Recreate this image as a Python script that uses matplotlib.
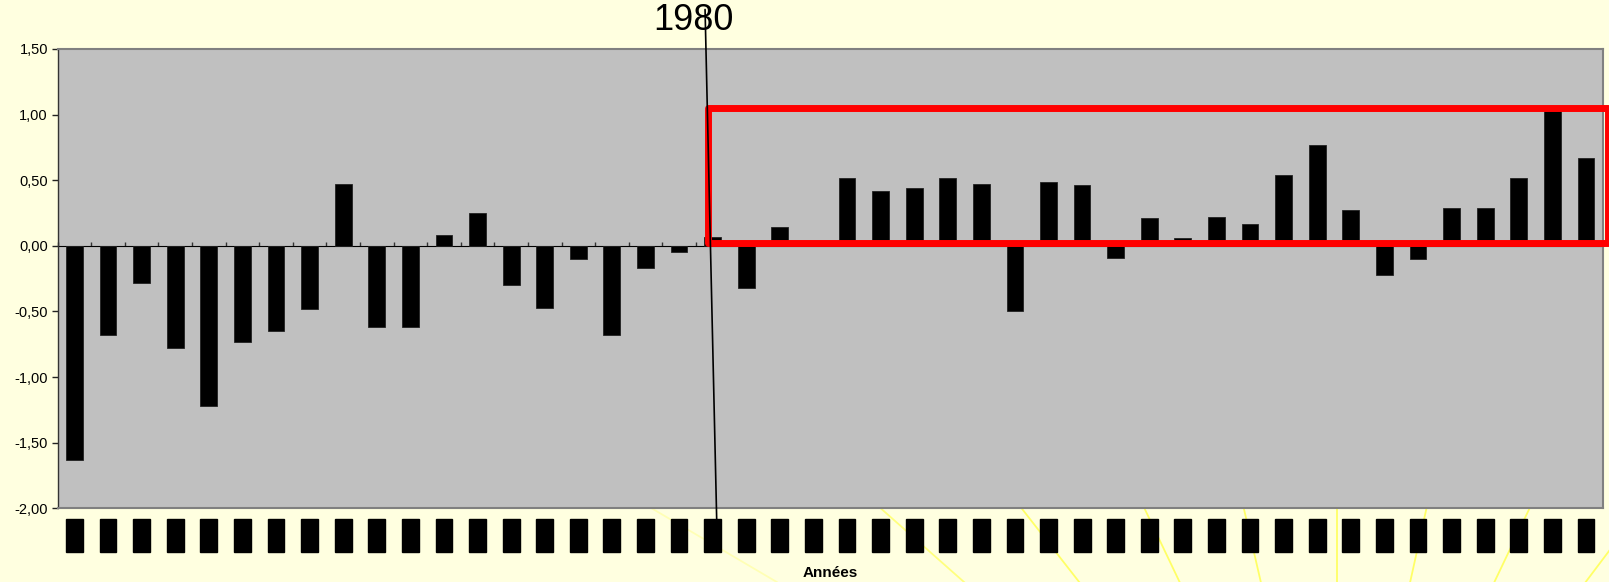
import numpy as np
import matplotlib
matplotlib.use('Agg')
import matplotlib.pyplot as plt
from matplotlib.patches import Rectangle
from matplotlib.lines import Line2D

plt.rcParams['font.family'] = ['Liberation Sans', 'DejaVu Sans']

# data
years = [str(y) for y in range(1961, 2007)]
values = [-1.63, -0.68, -0.28, -0.78, -1.22, -0.73, -0.65, -0.48, 0.47, -0.62,
          -0.62, 0.08, 0.25, -0.30, -0.47, -0.10, -0.68, -0.17, -0.05, 0.07,
          -0.32, 0.14, 0.02, 0.52, 0.42, 0.44, 0.52, 0.47, -0.50, 0.49,
          0.46, -0.09, 0.21, 0.06, 0.22, 0.17, 0.54, 0.77, 0.27, -0.22,
          -0.10, 0.29, 0.29, 0.52, 1.03, 0.67]
y_ticks = [-2.0, -1.5, -1.0, -0.5, 0.0, 0.5, 1.0, 1.5]
y_labels = ['-2,00', '-1,50', '-1,00', '-0,50', '0,00', '0,50', '1,00', '1,50']
mark_year = '1980'
box_x = (18.85, 45.65)   # red frame, in category units
box_y = (0.023, 1.05)

W, H = 1609, 582
bg = '#FFFFE0'
fig = plt.figure(figsize=(W / 100, H / 100), dpi=100, facecolor=bg)
ax = fig.add_axes([57.7 / W, 1 - 508.3 / H, (1602.7 - 57.7) / W, (508.3 - 49) / H])
ax.set_facecolor('#C0C0C0')

x = np.arange(len(years))
ax.bar(x, values, width=0.5, color='black', edgecolor='#222222', linewidth=0.6, zorder=3)

ax.set_xlim(-0.5, len(years) - 0.5)
ax.set_ylim(-2.0, 1.5)
ax.set_yticks(y_ticks)
ax.set_yticklabels(y_labels, fontsize=10.5)
ax.tick_params(axis='y', direction='out', length=4, width=1, pad=3, color='#222222')

# hidden year labels (black blocks)
ax.set_xticks(x)
ax.set_xticklabels(years, rotation=90, fontsize=9.1, color='black')
ax.tick_params(axis='x', length=0, pad=9.4)
for lab in ax.get_xticklabels():
    lab.set_bbox(dict(facecolor='black', edgecolor='black', pad=1.7))

for s in ['top', 'right', 'bottom']:
    ax.spines[s].set_color('#808080')
    ax.spines[s].set_linewidth(1.5)
ax.spines['left'].set_color('#333333')
ax.spines['left'].set_linewidth(1.0)

# category axis crossing at zero
zero_frac = (0 - y_ticks[0]) / (y_ticks[-1] - y_ticks[0])
sec = ax.secondary_xaxis(zero_frac)
sec.set_xticks(np.arange(len(years) + 1) - 0.5)
sec.set_xticklabels([])
sec.tick_params(direction='out', length=3, width=1, color='#333333')
sec.spines['bottom'].set_color('#555555')
sec.spines['bottom'].set_linewidth(1.0)

ax.set_xlabel('Années', fontsize=11, fontweight='bold', labelpad=12)

# red frame over the period after 1980
ax.add_patch(Rectangle((box_x[0], box_y[0]), box_x[1] - box_x[0], box_y[1] - box_y[0],
                       fill=False, edgecolor='#FF0000', linewidth=5, joinstyle='round',
                       clip_on=False, zorder=5))

# 1980 marker
i80 = years.index(mark_year)
ax.annotate(mark_year, xy=(i80 + 0.12, H - 519), xycoords=('data', 'figure pixels'),
            xytext=(693, H - 20), textcoords='figure pixels',
            ha='center', va='center', fontsize=26, zorder=6,
            arrowprops=dict(arrowstyle='-', color='black', lw=1.2, relpos=(0.65, 0.8),
                            patchA=None, shrinkA=0, shrinkB=0))

# pale yellow rays in the background below the plot
ray_cx, ray_cy = 1337, 912
ray_angles = [-37, -25.5, -12.5, 0, 13, 25.5, 38, 48.5, 59.5]
ray_alpha = [1, 1, 1, 1, 1, 1, 1, 0.8, 0.35]
for a, al in zip(ray_angles, ray_alpha):
    t = np.tan(np.radians(a))
    ys = np.array([508.3, H])
    xs = ray_cx - t * (ray_cy - ys)
    fig.add_artist(Line2D(xs / W, 1 - ys / H, transform=fig.transFigure,
                          color='#FFFF66', lw=1.3, alpha=al, zorder=-1))

fig.savefig('out.png', dpi=100, facecolor=bg)
